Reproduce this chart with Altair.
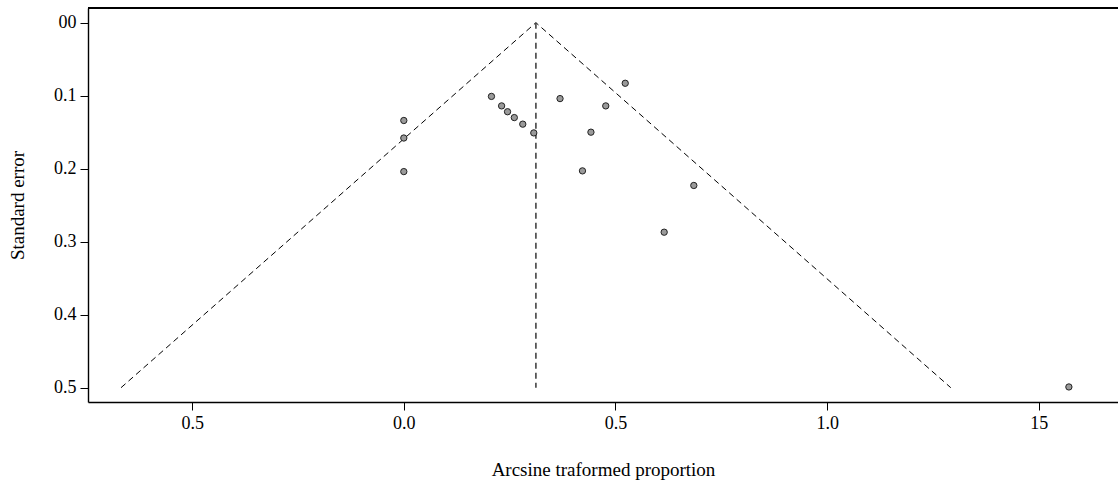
import altair as alt
import pandas as pd

# Study estimates (arcsine transformed proportion) and standard errors
est = [0.0, 0.0, 0.0, 0.207, 0.231, 0.245, 0.261, 0.281, 0.307, 0.369,
       0.442, 0.422, 0.477, 0.523, 0.685, 0.615, 1.571]
se = [0.134, 0.158, 0.204, 0.101, 0.114, 0.122, 0.130, 0.139, 0.151, 0.104,
      0.150, 0.203, 0.114, 0.083, 0.223, 0.287, 0.499]

# Funnel outline and pooled estimate line
funnel_x = [-0.668, 0.312, 1.292]
funnel_se = [0.5, 0.0, 0.5]
pooled_x = [0.312, 0.312]
pooled_se = [0.0, 0.5]

# Tick labels as printed
x_tick_values = [-0.5, 0.0, 0.5, 1.0, 1.5]
x_tick_labels = ["0.5", "0.0", "0.5", "1.0", "15"]
y_tick_values = [0.0, 0.1, 0.2, 0.3, 0.4, 0.5]
y_tick_labels = ["00", "0.1", "0.2", "0.3", "0.4", "0.5"]

W, H = 1030, 394
FONT = "Liberation Serif"

pts = pd.DataFrame({"x": est, "se": se})
fun = pd.DataFrame({"x": funnel_x, "se": funnel_se})
pool = pd.DataFrame({"x": pooled_x, "se": pooled_se})


def label_expr(values, labels):
    parts = []
    for v, l in zip(values, labels):
        parts.append(f"abs(datum.value - ({v})) < 1e-6 ? '{l}'")
    return " : ".join(parts) + " : ''"


xscale = alt.Scale(domain=[-0.746, 1.687], nice=False, zero=False)
yscale = alt.Scale(domain=[-0.0201, 0.5196], reverse=True, nice=False, zero=False)

xaxis = alt.Axis(
    values=x_tick_values,
    labelExpr=label_expr(x_tick_values, x_tick_labels),
    title="Arcsine traformed proportion",
    titleY=67, titleBaseline="middle",
    grid=False,
)
yaxis = alt.Axis(
    values=y_tick_values,
    labelExpr=label_expr(y_tick_values, y_tick_labels),
    title="Standard error",
    titleX=-71, titleY=H / 2, titleBaseline="middle", titleAlign="center",
    titleAngle=270,
    grid=False,
)

funnel = alt.Chart(fun).mark_line(
    color="black", strokeWidth=1, strokeDash=[6, 4]
).encode(
    x=alt.X("x:Q", scale=xscale, axis=xaxis),
    y=alt.Y("se:Q", scale=yscale, axis=yaxis),
)

pooled = alt.Chart(pool).mark_line(
    color="#444444", strokeWidth=1.6, strokeDash=[6, 4]
).encode(
    x=alt.X("x:Q", scale=xscale),
    y=alt.Y("se:Q", scale=yscale),
)

points = alt.Chart(pts).mark_circle(
    fill="#9a9a9a", stroke="#222222", strokeWidth=1, size=40, opacity=1
).encode(
    x=alt.X("x:Q", scale=xscale),
    y=alt.Y("se:Q", scale=yscale),
)

top_border = alt.Chart(pts).mark_rule(color="black", strokeWidth=1.4).encode(
    x=alt.value(0), x2=alt.value(W + 5), y=alt.value(0)
)

chart = alt.layer(funnel, pooled, points, top_border).properties(
    width=W, height=H,
    autosize=alt.AutoSizeParams(type="none"),
    padding={"left": 88, "top": 8, "right": 0, "bottom": 79},
    background="white",
).configure_view(
    stroke=None
).configure_axis(
    domainColor="black", domainWidth=1.4,
    tickColor="black", tickWidth=1, tickSize=8,
    labelFont=FONT, labelFontSize=18, labelColor="black", labelPadding=4,
    titleFont=FONT, titleFontSize=19, titleColor="black", titleFontWeight="normal",
)

chart.save("out.html", embed_options={"renderer": "svg", "actions": False})
